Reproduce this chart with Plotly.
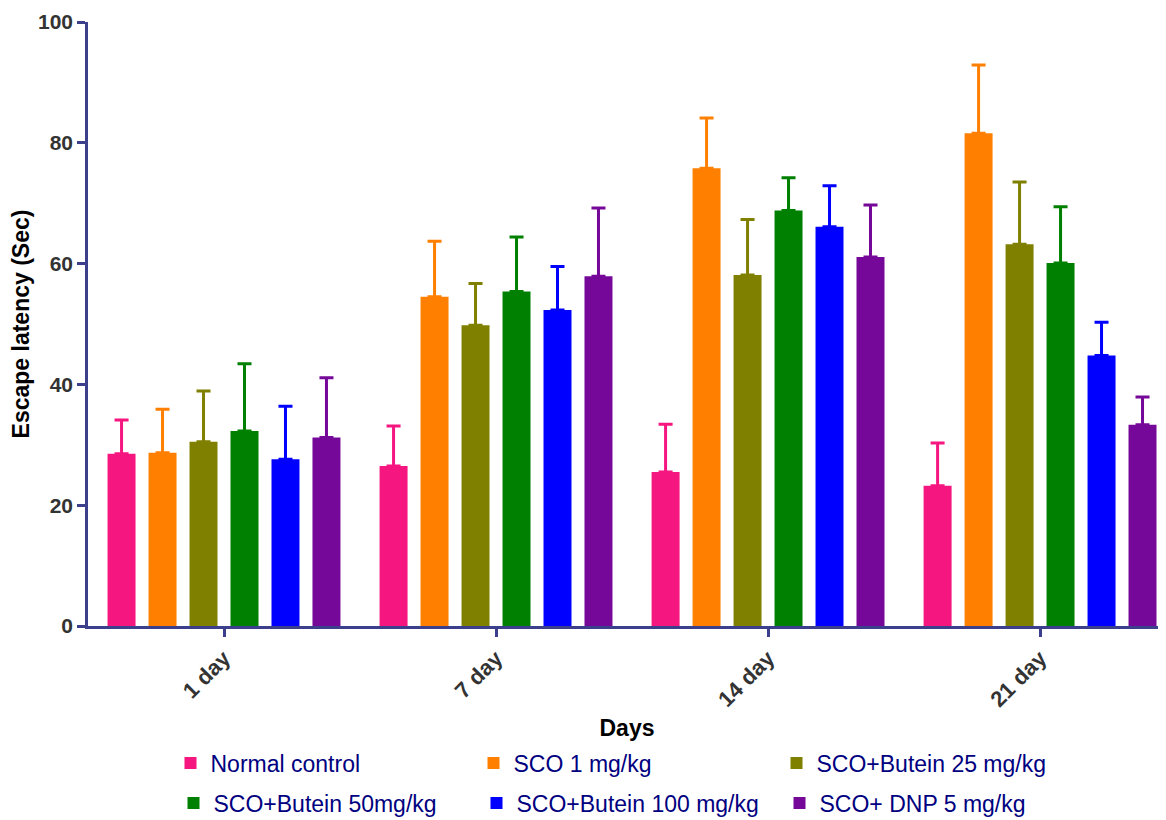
import plotly.graph_objects as go

days = ["1 day", "7 day", "14 day", "21 day"]
groups = ["Normal control", "SCO 1 mg/kg", "SCO+Butein 25 mg/kg",
          "SCO+Butein 50mg/kg", "SCO+Butein 100 mg/kg", "SCO+ DNP 5 mg/kg"]
colors = ["#F6167F", "#FF8000", "#808000", "#008000", "#0000FF", "#760899"]

normal_control = [28.5, 26.5, 25.5, 23.2]
sco_1 = [28.7, 54.5, 75.8, 81.6]
butein_25 = [30.5, 49.8, 58.1, 63.2]
butein_50 = [32.3, 55.4, 68.8, 60.1]
butein_100 = [27.6, 52.3, 66.1, 44.8]
dnp_5 = [31.2, 57.9, 61.1, 33.3]

err_normal = [5.6, 6.6, 7.9, 7.1]
err_sco_1 = [7.2, 9.2, 8.3, 11.3]
err_b25 = [8.4, 6.9, 9.2, 10.3]
err_b50 = [11.1, 9.0, 5.4, 9.3]
err_b100 = [8.8, 7.2, 6.8, 5.5]
err_dnp = [9.9, 11.3, 8.6, 4.6]

means = [normal_control, sco_1, butein_25, butein_50, butein_100, dnp_5]
errs = [err_normal, err_sco_1, err_b25, err_b50, err_b100, err_dnp]

fig = go.Figure()
for i, (name, m, e, c) in enumerate(zip(groups, means, errs, colors)):
    fig.add_trace(go.Bar(
        x=days, y=m, name=name,
        marker=dict(color=c, line=dict(width=0)),
        error_y=dict(type="data", array=e, arrayminus=[0] * len(e), symmetric=False,
                     color=c, thickness=3, width=7),
        legend="legend" if i < 3 else "legend2",
    ))

W, H = 1158, 812  # page body has an 8px margin
axis_color = "#3B3F8C"
legend_common = dict(
    orientation="h", xref="container", yref="container",
    xanchor="left", yanchor="middle",
    entrywidth=258, entrywidthmode="pixels",
    font=dict(size=23, color="#000080"), bgcolor="rgba(0,0,0,0)",
)
fig.update_layout(
    width=W, height=H,
    paper_bgcolor="white", plot_bgcolor="white",
    margin=dict(l=80, r=0, t=14, b=194, autoexpand=False),
    barmode="group", bargap=0.096, bargroupgap=0.317,
    font=dict(family="Arial, Liberation Sans, sans-serif"),
    xaxis=dict(
        range=[-0.5, 3.463], showline=True, linecolor=axis_color, linewidth=2.5,
        ticks="outside", ticklen=8, tickwidth=2.5, tickcolor=axis_color,
        tickangle=-45, showgrid=False, automargin=False,
        tickfont=dict(size=22, color="#333333", weight="bold"),
        title=dict(text="<b>Days</b>", font=dict(size=23, color="black"), standoff=20),
    ),
    yaxis=dict(
        range=[0, 100], dtick=20, showline=True, linecolor=axis_color, linewidth=2.5,
        ticks="outside", ticklen=8, tickwidth=2.5, tickcolor=axis_color,
        showgrid=False, zeroline=False, automargin=False,
        tickfont=dict(size=21, color="#333333", weight="bold"),
        title=dict(text="<b>Escape latency (Sec)</b>", font=dict(size=23, color="black"), standoff=10),
    ),
    legend=dict(x=162.5 / W, y=1 - 755 / H, **legend_common),
    legend2=dict(x=165.5 / W, y=1 - 795 / H, **legend_common),
)

fig.write_html("out.html")
